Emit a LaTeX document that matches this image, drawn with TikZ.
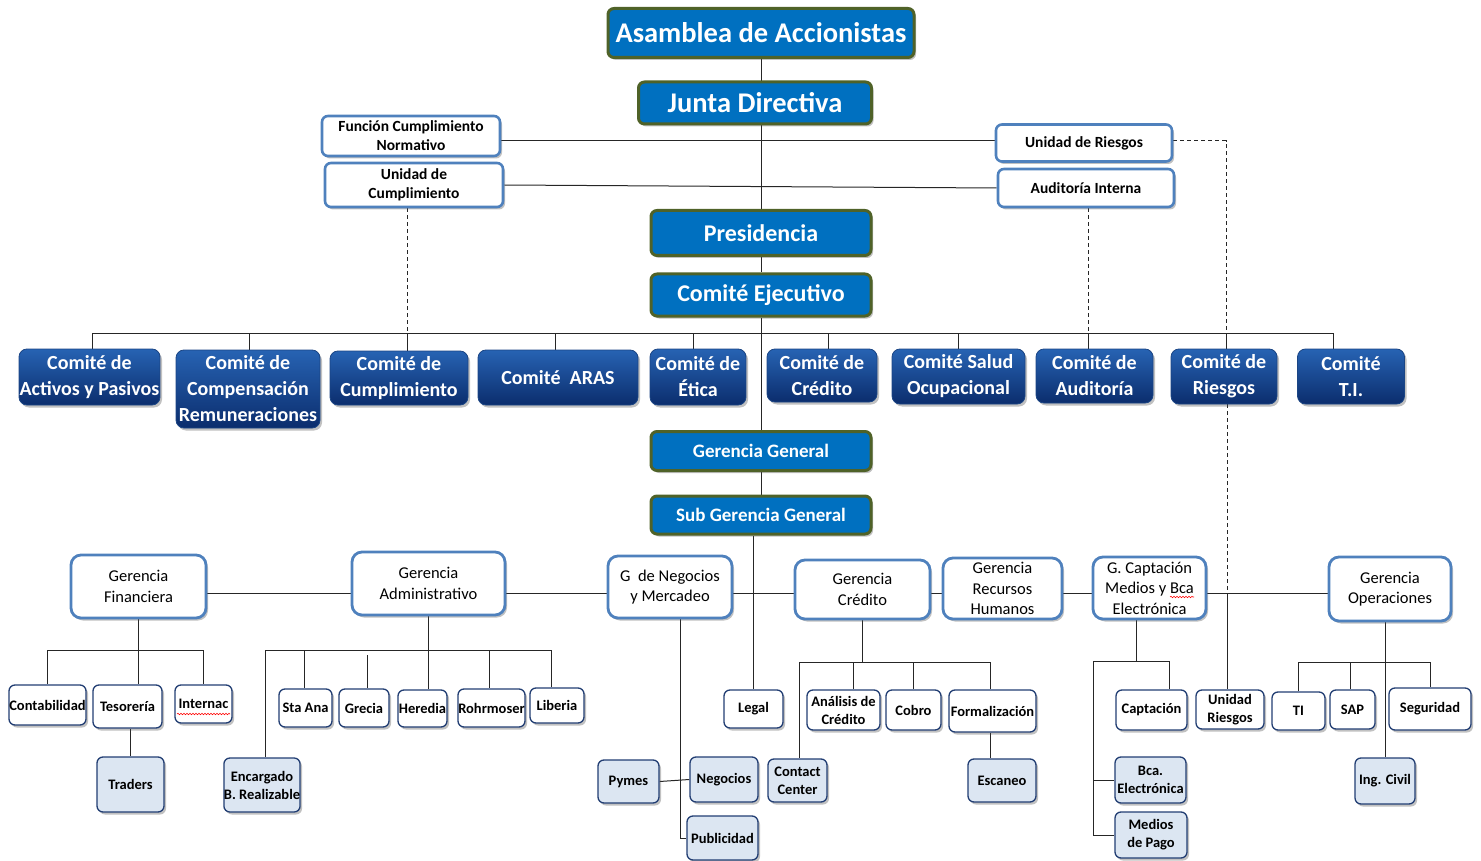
\documentclass[tikz,border=0pt]{standalone}
\usepackage{fontspec}
\setmainfont{Carlito}
\usetikzlibrary{shadows,backgrounds,decorations.pathmorphing}
\definecolor{topblue}{HTML}{0070C0}
\definecolor{olivegreen}{HTML}{4F6228}
\definecolor{ctop}{HTML}{2763B3}
\definecolor{cbot}{HTML}{0B2D6D}
\definecolor{cdraw}{HTML}{1B4584}
\definecolor{gborder}{HTML}{4F81BD}
\definecolor{sborder}{HTML}{223E73}
\definecolor{lightfill}{HTML}{DCE6F2}
\newcommand\myfs[2]{\fontsize{#1}{#2}\selectfont}
\tikzset{
  shad/.style={drop shadow={shadow xshift=2pt,shadow yshift=-2.5pt,opacity=0.35,fill=black!70}},
  topbox/.style={shad,draw=olivegreen,line width=3pt,fill=topblue,text=white,rounded corners=6pt,inner sep=0pt,align=center},
  comite/.style={shad,draw=cdraw,line width=0.8pt,top color=ctop,bottom color=cbot,text=white,rounded corners=8pt,inner sep=0pt,align=center,font=\bfseries\myfs{20}{26}},
  ctrl/.style={shad,draw=gborder,line width=2.6pt,fill=white,rounded corners=6pt,inner sep=0pt,align=center,font=\bfseries\myfs{15.5}{19}},
  ger/.style={shad,draw=gborder,line width=2.8pt,fill=white,rounded corners=10pt,inner sep=0pt,align=center,font=\myfs{16.5}{20.5}},
  sub/.style={shad,draw=sborder,line width=1.3pt,fill=white,rounded corners=6pt,inner sep=0pt,align=center,font=\bfseries\myfs{14.5}{18}},
  subl/.style={sub,fill=lightfill},
  conn/.style={line width=1pt,draw=black!85},
  dashconn/.style={conn,dash pattern=on 4pt off 3pt},
}
\begin{document}
\begin{tikzpicture}[x=1pt,y=-1pt]
\useasboundingbox (0,0) rectangle (1481,861);
% top level
\node[topbox,font=\bfseries\myfs{28.5}{30},minimum width=306pt,minimum height=49pt] (asam) at (761,33) {Asamblea de Accionistas};
\node[topbox,font=\bfseries\myfs{28.5}{30},minimum width=233pt,minimum height=42pt] (junta) at (755,103) {Junta Directiva};
\node[topbox,font=\bfseries\myfs{24}{26},minimum width=220pt,minimum height=45pt] (pres) at (761,233) {Presidencia};
\node[topbox,font=\bfseries\myfs{24}{26},minimum width=220pt,minimum height=42pt] (cejec) at (761,295) {Comité Ejecutivo};
\node[topbox,font=\bfseries\myfs{19}{21},minimum width=220pt,minimum height=39pt] (gg) at (761,451) {Gerencia General};
\node[topbox,font=\bfseries\myfs{19}{21},minimum width=220pt,minimum height=38pt] (sgg) at (761,515) {Sub Gerencia General};
% control units
\node[ctrl,minimum width=178pt,minimum height=40pt] (fcn) at (411,136) {Función Cumplimiento\\Normativo};
\node[ctrl,minimum width=178pt,minimum height=44pt] (ucum) at (414,185) {Unidad de\\Cumplimiento};
\node[ctrl,minimum width=176pt,minimum height=37pt] (urie) at (1084,143) {Unidad de Riesgos};
\node[ctrl,minimum width=176pt,minimum height=38pt] (audi) at (1086,188) {Auditoría Interna};
% comites
\node[comite,minimum width=141pt,minimum height=56pt] (cap) at (89.5,377) {Comité de\\Activos y Pasivos};
\node[comite,minimum width=144pt,minimum height=78pt] (ccomp) at (248,389) {Comité de\\Compensación\\Remuneraciones};
\node[comite,minimum width=138pt,minimum height=54pt] (ccum) at (399,378) {Comité de\\Cumplimiento};
\node[comite,minimum width=160pt,minimum height=55pt] (caras) at (558,377.5) {Comité\ \ ARAS};
\node[comite,minimum width=96pt,minimum height=56pt] (cetica) at (698,377) {Comité de\\Ética};
\node[comite,minimum width=110pt,minimum height=53pt] (ccred) at (822,375.5) {Comité de\\Crédito};
\node[comite,minimum width=133pt,minimum height=55pt] (csalud) at (958.5,376.5) {Comité Salud\\Ocupacional};
\node[comite,minimum width=117pt,minimum height=54pt] (caud) at (1094.5,376) {Comité de\\Auditoría};
\node[comite,minimum width=106pt,minimum height=55pt] (criesg) at (1224,376.5) {Comité de\\Riesgos};
\node[comite,minimum width=107pt,minimum height=55pt] (cti) at (1351,376.5) {Comité\\T.I.};
% gerencias
\node[ger,minimum width=135pt,minimum height=63pt] (gfin) at (138.5,586.5) {Gerencia\\Financiera};
\node[ger,minimum width=153pt,minimum height=63pt] (gadm) at (428.5,583.5) {Gerencia\\Administrativo};
\node[ger,minimum width=124pt,minimum height=62pt] (gneg) at (670,587) {G\ \ de Negocios\\y Mercadeo};
\node[ger,minimum width=135pt,minimum height=59pt] (gcred) at (862.5,589.5) {Gerencia\\Crédito};
\node[ger,minimum width=119pt,minimum height=61pt] (grrhh) at (1002.5,588.5) {Gerencia\\Recursos\\Humanos};
\node[ger,minimum width=113pt,minimum height=62pt] (gcap) at (1149.5,588) {G. Captación\\Medios y Bca\\Electrónica};
\node[ger,minimum width=122pt,minimum height=64pt] (gops) at (1390,589) {Gerencia\\Operaciones};
% sub units
\node[sub,minimum width=77pt,minimum height=40pt] (contab) at (47.5,705) {Contabilidad};
\node[sub,minimum width=69pt,minimum height=43pt] (teso) at (127.5,706.5) {Tesorería};
\node[sub,minimum width=57pt,minimum height=38pt] (intern) at (203.5,704) {Internac};
\node[sub,minimum width=53pt,minimum height=38pt] (staana) at (305.5,708) {Sta Ana};
\node[sub,minimum width=50pt,minimum height=38pt] (grecia) at (364,708) {Grecia};
\node[sub,minimum width=49pt,minimum height=37pt] (heredia) at (422.5,708.5) {Heredia};
\node[sub,minimum width=67pt,minimum height=38pt] (rohr) at (491.5,708) {Rohrmoser};
\node[sub,minimum width=54pt,minimum height=35pt] (liberia) at (557,705.5) {Liberia};
\node[sub,minimum width=59pt,minimum height=38pt] (legal) at (753.5,709) {Legal};
\node[sub,minimum width=73pt,minimum height=40pt] (analisis) at (843.5,710) {Análisis de\\Crédito};
\node[sub,minimum width=55pt,minimum height=40pt] (cobro) at (913.5,710) {Cobro};
\node[sub,minimum width=87pt,minimum height=42pt] (formal) at (992.5,711) {Formalización};
\node[sub,minimum width=71pt,minimum height=40pt] (captac) at (1151.5,710) {Captación};
\node[sub,minimum width=68pt,minimum height=39pt] (uriesg) at (1230,709.5) {Unidad\\Riesgos};
\node[sub,minimum width=53pt,minimum height=38pt] (ti) at (1298.5,711) {TI};
\node[sub,minimum width=45pt,minimum height=39pt] (sap) at (1352.5,709.5) {SAP};
\node[sub,minimum width=82pt,minimum height=42pt] (segur) at (1430,709) {Seguridad};
% light sub units
\node[subl,minimum width=67pt,minimum height=55pt] (traders) at (130.5,784.5) {Traders};
\node[subl,minimum width=76pt,minimum height=54pt] (encarg) at (262,785) {Encargado\\B. Realizable};
\node[subl,minimum width=61pt,minimum height=43pt] (pymes) at (628.5,781.5) {Pymes};
\node[subl,minimum width=68pt,minimum height=45pt] (negoc) at (724,779.5) {Negocios};
\node[subl,minimum width=59pt,minimum height=43pt] (contact) at (797.5,780.5) {Contact\\Center};
\node[subl,minimum width=68pt,minimum height=43pt] (escaneo) at (1002,780.5) {Escaneo};
\node[subl,minimum width=71pt,minimum height=44pt] (public) at (722.5,838) {Publicidad};
\node[subl,minimum width=71pt,minimum height=46pt] (bcael) at (1150.5,780) {Bca.\\Electrónica};
\node[subl,minimum width=72pt,minimum height=46pt] (medios) at (1151,835) {Medios\\de Pago};
\node[subl,minimum width=60pt,minimum height=46pt] (ingciv) at (1385,781) {Ing. Civil};
% spell-check marks
\draw[red,line width=0.6pt,decorate,decoration={snake,amplitude=0.7pt,segment length=3pt}] (177,714) -- (230,714);
\draw[red,line width=0.6pt,decorate,decoration={snake,amplitude=0.7pt,segment length=3pt}] (1170,597) -- (1194,597);
% coordinates
\coordinate (h1) at (0,141);
\coordinate (h2) at (0,593);
\coordinate (b1) at (0,650);
\coordinate (b2) at (0,662);
\foreach \n/\x in {k1/92,k2/249,k3/407,k4/555,k5/693,k6/828,k7/958,k8/1088,k9/1226,k10/1333}
  \coordinate (\n) at (\x,333);
\coordinate (r1) at (1227,593);
\foreach \n/\x in {a0/265,a1/304,a2/367,a4/489,a5/551}
  \coordinate (\n) at (\x,650);
\coordinate (n1) at (680,838);
\foreach \n/\x in {c1/799,c2/853,c3/913,c4/990}
  \coordinate (\n) at (\x,662);
\foreach \n/\x in {p0/1093,p1/1136,p2/1169}
  \coordinate (\n) at (\x,661);
\foreach \n/\x in {o1/1298,o2/1350,o3/1430}
  \coordinate (\n) at (\x,662);
% connectors
\begin{scope}[on background layer]
\draw[conn] (asam.south) -- (pres.north);
\draw[conn] (pres.south) -- (cejec.north);
\draw[conn] (cejec.south) -- (gg.north);
\draw[conn] (gg.south) -- (sgg.north);
\draw[conn] (sgg.south -| legal.north) -- (legal.north);
\draw[conn] (fcn.east |- h1) -- (urie.west |- h1);
\draw[conn] (ucum.east) -- (audi.west);
\draw[dashconn] (ucum.south -| k3) -- (k3);
\draw[dashconn] (audi.south -| k8) -- (k8);
\draw[dashconn] (urie.east |- h1) -| (k9);
\draw[conn] (k1) -- (k10);
\foreach \k/\n in {k1/cap,k2/ccomp,k3/ccum,k4/caras,k5/cetica,k6/ccred,k7/csalud,k8/caud,k9/criesg,k10/cti}
  \draw[conn] (\k) -- (\k |- \n.north);
\draw[conn] (gfin.east |- h2) -- (gops.west |- h2);
\draw[dashconn] (criesg.south -| r1) -- (r1);
\draw[conn] (r1) -- (r1 |- uriesg.north);
% financiera
\draw[conn] (gfin.south) -- (gfin.south |- teso.north);
\draw[conn] (contab.north |- b1) -- (intern.north |- b1);
\draw[conn] (contab.north |- b1) -- (contab.north);
\draw[conn] (intern.north |- b1) -- (intern.north);
\draw[conn] (traders.north) -- (traders.north |- teso.south);
% administrativo
\draw[conn] (gadm.south) -- (gadm.south |- heredia.north);
\draw[conn] (a0) -- (a5);
\draw[conn] (a0) -- (a0 |- encarg.north);
\draw[conn] (a1) -- (a1 |- staana.north);
\draw[conn] (a2) ++(0,5) -- (a2 |- grecia.north);
\draw[conn] (a4) -- (a4 |- rohr.north);
\draw[conn] (a5) -- (a5 |- liberia.north);
% negocios
\draw[conn] (gneg.south -| n1) -- (n1) -- (public.west);
\draw[conn] (pymes.east) -- (negoc.west);
% credito
\draw[conn] (gcred.south) -- (gcred.south |- b2);
\draw[conn] (c1) -- (c4);
\draw[conn] (c1) -- (c1 |- contact.north);
\draw[conn] (c2) -- (c2 |- analisis.north);
\draw[conn] (c3) -- (c3 |- cobro.north);
\draw[conn] (c4) -- (c4 |- formal.north);
\draw[conn] (c4 |- formal.south) -- (c4 |- escaneo.north);
% captacion
\draw[conn] (gcap.south -| p1) -- (p1);
\draw[conn] (p0) -- (p2) -- (p2 |- captac.north);
\draw[conn] (p0) -- (p0 |- medios.west) -- (medios.west);
\draw[conn] (p0 |- bcael.west) -- (bcael.west);
% operaciones
\draw[conn] (gops.south -| ingciv.north) -- (ingciv.north);
\draw[conn] (o1) -- (o3);
\draw[conn] (o1) -- (o1 |- ti.north);
\draw[conn] (o2) -- (o2 |- sap.north);
\draw[conn] (o3) -- (o3 |- segur.north);
\end{scope}
\end{tikzpicture}
\end{document}
